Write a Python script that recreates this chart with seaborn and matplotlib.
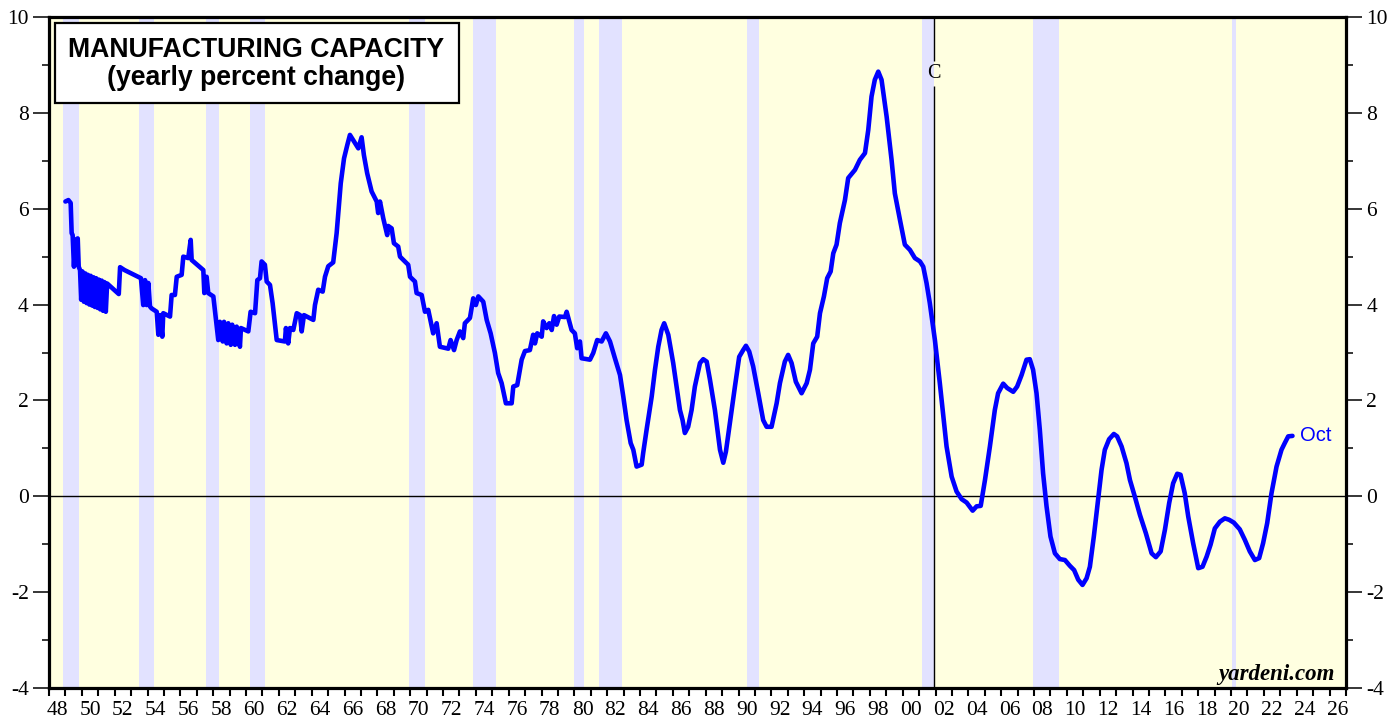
import numpy as np
import pandas as pd
import seaborn as sns
import matplotlib.pyplot as plt
from matplotlib.patches import Rectangle

# manufacturing capacity, yearly % change (decimal years)
dates = [
    1949.00, 1949.18, 1949.32, 1949.38, 1949.44, 1949.52, 1949.60, 1949.75, 1949.81, 1949.89,
    1949.96, 1950.04, 1950.12, 1950.21, 1950.29, 1950.37, 1950.46, 1950.54, 1950.62, 1950.71,
    1950.79, 1950.87, 1950.96, 1951.04, 1951.12, 1951.21, 1951.29, 1951.37, 1951.46, 1951.54,
    1952.25, 1952.33, 1952.60, 1953.60, 1953.74, 1953.85, 1953.95, 1954.05, 1954.15, 1954.25,
    1954.56, 1954.66, 1954.76, 1954.90, 1954.96, 1955.37, 1955.47, 1955.67, 1955.78, 1956.08,
    1956.18, 1956.48, 1956.63, 1956.69, 1957.40, 1957.46, 1957.60, 1957.70, 1958.01, 1958.17,
    1958.31, 1958.41, 1958.58, 1958.66, 1958.82, 1958.92, 1959.07, 1959.16, 1959.33, 1959.43,
    1959.63, 1959.69, 1960.14, 1960.28, 1960.55, 1960.69, 1960.85, 1960.95, 1961.15, 1961.26,
    1961.46, 1961.62, 1961.76, 1961.87, 1962.37, 1962.43, 1962.57, 1962.68, 1962.88, 1963.09,
    1963.29, 1963.39, 1963.53, 1964.10, 1964.20, 1964.40, 1964.67, 1964.81, 1965.01, 1965.31,
    1965.52, 1965.77, 1965.97, 1966.17, 1966.33, 1966.84, 1967.04, 1967.18, 1967.38, 1967.65,
    1967.96, 1968.05, 1968.16, 1968.36, 1968.60, 1968.66, 1968.87, 1969.01, 1969.27, 1969.38,
    1969.88, 1969.99, 1970.29, 1970.39, 1970.70, 1970.90, 1971.10, 1971.40, 1971.61, 1971.81,
    1972.32, 1972.46, 1972.67, 1972.83, 1973.03, 1973.23, 1973.33, 1973.64, 1973.84, 1974.00,
    1974.15, 1974.45, 1974.66, 1974.90, 1975.16, 1975.36, 1975.57, 1975.83, 1976.18, 1976.28,
    1976.52, 1976.79, 1976.99, 1977.29, 1977.49, 1977.60, 1977.74, 1978.01, 1978.10, 1978.31,
    1978.47, 1978.62, 1978.76, 1978.92, 1979.08, 1979.43, 1979.53, 1979.69, 1979.83, 1980.03,
    1980.17, 1980.34, 1980.44, 1980.95, 1981.15, 1981.39, 1981.66, 1981.92, 1982.17, 1982.47,
    1982.78, 1982.98, 1983.18, 1983.43, 1983.59, 1983.79, 1984.10, 1984.19, 1984.40, 1984.71,
    1984.91, 1985.11, 1985.31, 1985.47, 1985.72, 1986.02, 1986.43, 1986.59, 1986.73, 1986.93,
    1987.14, 1987.34, 1987.65, 1987.85, 1988.06, 1988.26, 1988.56, 1988.87, 1989.07, 1989.23,
    1989.47, 1989.78, 1990.04, 1990.28, 1990.45, 1990.65, 1990.89, 1991.20, 1991.50, 1991.71,
    1992.01, 1992.32, 1992.52, 1992.82, 1993.02, 1993.23, 1993.49, 1993.84, 1994.15, 1994.35,
    1994.55, 1994.79, 1994.96, 1995.20, 1995.40, 1995.61, 1995.77, 1995.97, 1996.17, 1996.48,
    1996.68, 1997.09, 1997.39, 1997.70, 1997.90, 1998.10, 1998.30, 1998.51, 1998.71, 1999.02,
    1999.32, 1999.52, 1999.83, 2000.13, 2000.44, 2000.74, 2001.05, 2001.25, 2001.45, 2001.65,
    2001.96, 2002.26, 2002.67, 2002.98, 2003.28, 2003.59, 2003.89, 2004.26, 2004.50, 2004.75,
    2005.01, 2005.31, 2005.61, 2005.81, 2006.12, 2006.36, 2006.73, 2006.97, 2007.24, 2007.54,
    2007.74, 2007.94, 2008.15, 2008.35, 2008.55, 2008.76, 2009.00, 2009.27, 2009.57, 2009.88,
    2010.18, 2010.44, 2010.69, 2010.95, 2011.20, 2011.40, 2011.64, 2011.90, 2012.11, 2012.31,
    2012.57, 2012.86, 2013.06, 2013.33, 2013.63, 2013.84, 2014.14, 2014.45, 2014.81, 2015.16,
    2015.42, 2015.71, 2015.97, 2016.23, 2016.47, 2016.72, 2016.92, 2017.18, 2017.39, 2017.69,
    2018.00, 2018.26, 2018.51, 2018.75, 2019.01, 2019.32, 2019.62, 2019.88, 2020.17, 2020.53,
    2020.84, 2021.14, 2021.45, 2021.71, 2021.95, 2022.20, 2022.46, 2022.77, 2023.07, 2023.27,
    2023.48, 2023.74,
]
capacity_pct = [
    6.15, 6.18, 6.12, 5.49, 5.45, 4.79, 5.35, 5.38, 4.79, 4.72,
    4.10, 4.69, 4.06, 4.65, 4.03, 4.62, 4.00, 4.60, 3.98, 4.57,
    3.95, 4.55, 3.93, 4.52, 3.90, 4.50, 3.87, 4.47, 3.85, 4.44,
    4.22, 4.78, 4.72, 4.55, 3.99, 4.51, 3.99, 4.45, 3.96, 3.92,
    3.85, 3.37, 3.78, 3.33, 3.82, 3.75, 4.20, 4.20, 4.58, 4.62,
    5.00, 4.97, 5.35, 4.93, 4.72, 4.24, 4.58, 4.24, 4.17, 3.68,
    3.26, 3.64, 3.23, 3.64, 3.19, 3.61, 3.16, 3.58, 3.16, 3.54,
    3.12, 3.51, 3.44, 3.85, 3.82, 4.51, 4.55, 4.90, 4.83, 4.48,
    4.41, 4.03, 3.61, 3.26, 3.23, 3.51, 3.19, 3.51, 3.47, 3.82,
    3.78, 3.44, 3.78, 3.68, 3.99, 4.31, 4.27, 4.58, 4.80, 4.88,
    5.49, 6.53, 7.05, 7.33, 7.54, 7.26, 7.49, 7.12, 6.74, 6.36,
    6.15, 5.91, 6.15, 5.80, 5.45, 5.64, 5.59, 5.28, 5.21, 5.00,
    4.83, 4.58, 4.48, 4.24, 4.20, 3.85, 3.89, 3.40, 3.61, 3.12,
    3.08, 3.26, 3.05, 3.26, 3.44, 3.30, 3.61, 3.72, 4.13, 3.99,
    4.17, 4.06, 3.68, 3.40, 2.99, 2.57, 2.36, 1.94, 1.94, 2.29,
    2.32, 2.85, 3.03, 3.05, 3.37, 3.19, 3.40, 3.33, 3.65, 3.51,
    3.61, 3.47, 3.76, 3.58, 3.75, 3.74, 3.85, 3.65, 3.47, 3.40,
    3.09, 3.23, 2.88, 2.85, 2.99, 3.26, 3.23, 3.40, 3.23, 2.88,
    2.53, 2.08, 1.59, 1.11, 0.97, 0.62, 0.66, 0.90, 1.39, 2.08,
    2.64, 3.12, 3.47, 3.61, 3.37, 2.78, 1.80, 1.59, 1.32, 1.45,
    1.80, 2.29, 2.78, 2.86, 2.81, 2.43, 1.80, 0.97, 0.70, 0.93,
    1.53, 2.29, 2.91, 3.05, 3.14, 3.02, 2.71, 2.15, 1.59, 1.45,
    1.45, 1.94, 2.36, 2.81, 2.95, 2.78, 2.39, 2.15, 2.36, 2.64,
    3.19, 3.33, 3.82, 4.17, 4.55, 4.69, 5.07, 5.25, 5.70, 6.18,
    6.64, 6.81, 7.02, 7.16, 7.64, 8.34, 8.69, 8.86, 8.69, 7.92,
    7.02, 6.32, 5.77, 5.25, 5.14, 4.97, 4.90, 4.79, 4.45, 4.03,
    3.26, 2.36, 1.04, 0.41, 0.10, -0.06, -0.13, -0.30, -0.21, -0.20,
    0.34, 1.04, 1.80, 2.15, 2.35, 2.26, 2.18, 2.29, 2.53, 2.85,
    2.86, 2.64, 2.15, 1.39, 0.48, -0.21, -0.84, -1.19, -1.31, -1.33,
    -1.45, -1.54, -1.74, -1.85, -1.71, -1.47, -0.84, -0.08, 0.55, 0.97,
    1.19, 1.30, 1.25, 1.04, 0.69, 0.34, -0.01, -0.39, -0.77, -1.19,
    -1.27, -1.15, -0.70, -0.14, 0.27, 0.47, 0.45, 0.06, -0.42, -0.98,
    -1.50, -1.47, -1.26, -1.01, -0.67, -0.53, -0.46, -0.49, -0.55, -0.69,
    -0.91, -1.15, -1.33, -1.29, -0.98, -0.56, 0.06, 0.62, 0.97, 1.11,
    1.25, 1.26,
]

# NBER recessions (decimal years)
rec_start = [1948.83, 1953.50, 1957.58, 1960.25, 1969.92, 1973.83, 1980.00, 1981.50, 1990.50, 2001.17, 2007.92, 2020.08]
rec_end = [1949.83, 1954.42, 1958.33, 1961.17, 1970.92, 1975.25, 1980.58, 1982.92, 1991.25, 2001.92, 2009.50, 2020.33]

c_line = 2001.92
last_label = "Oct"
title_lines = ["MANUFACTURING CAPACITY", "(yearly percent change)"]
year_labels = [f"{y % 100:02d}" for y in range(1948, 2027, 2)]

sns.set_style("ticks")
plt.rcParams["font.family"] = ["Liberation Serif", "DejaVu Serif"]
plt.rcParams.update({"text.color": "black", "xtick.color": "black", "ytick.color": "black",
                     "axes.edgecolor": "black", "axes.labelcolor": "black"})

df = pd.DataFrame({"date": dates, "pct": capacity_pct})

fig = plt.figure(figsize=(13.9, 7.19), dpi=100)
ax = fig.add_axes([49 / 1390, 1 - 688 / 719, 1297 / 1390, 671 / 719])
ax.set_facecolor("#FFFFE0")

for s, e in zip(rec_start, rec_end):
    ax.axvspan(s, e, color="#E2E2FF", lw=0, zorder=0)

ax.axhline(0, color="black", lw=1.0, zorder=1)
ax.vlines([c_line, c_line], [-4, 9.08], [8.55, 10], color="black", lw=1.0, zorder=1)
ax.text(c_line, 8.83, "C", ha="center", va="center", fontsize=14.5, zorder=4)

sns.lineplot(data=df, x="date", y="pct", ax=ax, color="#0000FF", lw=3.3,
             sort=False, estimator=None, zorder=3)

ax.text(dates[-1] + 0.45, capacity_pct[-1], last_label, color="#0000FF", fontsize=14.5,
        family="Liberation Sans", ha="left", va="center")

# title box
ax.add_patch(Rectangle((0.0046, 0.872), 0.3115, 0.119, transform=ax.transAxes,
                       fc="white", ec="black", lw=1.6, zorder=5))
ax.text(0.160, 0.951, title_lines[0], transform=ax.transAxes, ha="center", va="center",
        fontsize=19.2, fontweight="bold", family="Liberation Sans", zorder=6)
ax.text(0.160, 0.909, title_lines[1], transform=ax.transAxes, ha="center", va="center",
        fontsize=19.2, fontweight="bold", family="Liberation Sans", zorder=6)

ax.text(0.9915, 0.012, "yardeni.com", transform=ax.transAxes, ha="right", va="baseline",
        fontsize=16.5, fontweight="bold", fontstyle="italic", zorder=6)

ax.set_xlim(1948, 2027)
ax.set_ylim(-4, 10)
ax.set_xlabel("")
ax.set_ylabel("")

ax.set_xticks(range(1948, 2028))
ax.set_xticklabels([])
ax.set_xticks([y + 0.5 for y in range(1948, 2027, 2)], minor=True)
ax.set_xticklabels(year_labels, minor=True)
ax.tick_params(axis="x", which="major", length=5.5, width=1.5, direction="out")
ax.tick_params(axis="x", which="minor", length=0, pad=9.5, labelsize=15.5)

ax.set_yticks(range(-4, 11, 2))
ax.set_yticklabels([str(v) for v in range(-4, 11, 2)])
ax.set_yticks(range(-3, 10, 2), minor=True)
ax.tick_params(axis="y", which="major", length=11.5, width=1.1, labelsize=15.5,
               left=True, right=True, labelleft=True, labelright=True, pad=3)
ax.tick_params(axis="y", which="minor", length=5, width=1.1, left=True, right=True)

for sp in ax.spines.values():
    sp.set_visible(True)
    sp.set_linewidth(2.3)
    sp.set_color("black")

fig.savefig("out.png", dpi=100, facecolor="white")
